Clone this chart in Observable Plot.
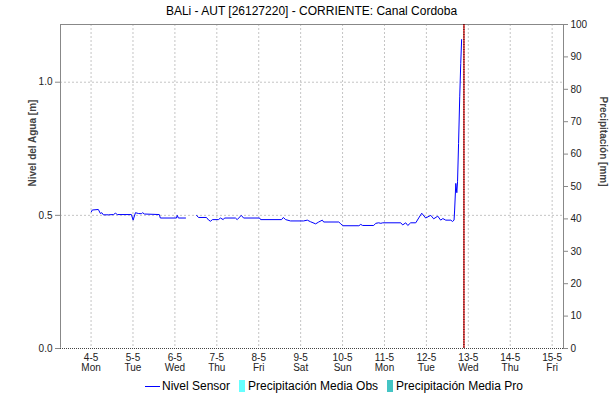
<!DOCTYPE html>
<html><head><meta charset="utf-8">
<script src="https://cdn.jsdelivr.net/npm/d3@7"></script>
<script src="https://cdn.jsdelivr.net/npm/@observablehq/plot@0.6"></script>
<style>
body{margin:0;background:#fff;font-family:"Liberation Sans",Arial,sans-serif;width:610px;height:404px;position:relative;overflow:hidden}
#title{position:absolute;left:60px;width:503px;top:4px;text-align:center;font-size:12px;color:#000;white-space:nowrap}
#chart{position:absolute;left:0;top:20px}
#legend{position:absolute;top:379px;left:145px;font-size:12px;white-space:nowrap;display:flex;align-items:center;color:#000}
#legend .sw{display:inline-block;width:6px;height:12px;margin-right:3px}
#legend .ln{display:inline-block;width:15px;height:1px;background:#0000ff;margin-right:2px}
#legend .it{display:flex;align-items:center;margin-right:9px}
</style></head><body>
<div id="title"></div>
<div id="chart"></div>
<div id="legend"></div>
<script>
const title = "BALi - AUT [26127220] - CORRIENTE: Canal Cordoba";
const yLabel = "Nivel del Agua [m]";
const y2Label = "Precipitación [mm]";
const seriesNames = ["Nivel Sensor", "Precipitación Media Obs", "Precipitación Media Pro"];
const seriesColors = ["#0000ff", "#66ffff", "#44c4c4"];

const times = [
 "04T00:10","04T00:40","04T04:10","04T05:20","04T06:10","04T07:00","04T09:55","04T12:50","04T13:55","04T15:05","04T23:05",
 "05T00:05","05T01:25","05T03:05","05T04:50","05T05:25","05T06:35","05T15:05","05T15:40",
 "06T00:55","06T01:20","06T02:00","06T06:05","06T09:00","06T12:25","06T13:30","06T18:05","06T19:20","06T20:25","06T21:30",
 "07T00:55","07T02:05","07T03:40","07T04:25","07T10:40","07T11:40","07T14:00","07T15:20",
 "08T00:30","08T01:05","08T13:05","08T14:05","08T15:25","08T18:10",
 "09T01:40","09T03:50","09T05:40","09T08:35","09T10:20","09T12:25","09T13:10","09T21:50","09T23:00",
 "10T00:05","10T09:20","10T10:25","10T11:30","10T17:50","10T19:00","10T20:40","10T21:55","10T23:00",
 "11T09:20","11T10:25","11T12:10","11T13:20","11T15:00","11T17:55","11T19:35","11T21:20","11T23:35",
 "12T02:30","12T04:10","12T06:30","12T08:10","12T09:25","12T11:05","12T14:00","12T14:55","12T15:50","12T16:10","12T16:50","12T17:25","12T17:50","12T18:25","12T19:05","12T19:40","12T20:10"
];
const levels = [
 0.513,0.520,0.522,0.507,0.510,0.502,0.502,0.503,0.508,0.503,0.503,
 0.482,0.510,0.507,0.506,0.510,0.505,0.503,0.490,
 0.490,0.500,0.490,0.490,null,0.500,0.492,0.492,0.482,0.478,0.484,
 0.484,0.490,0.484,0.490,0.490,0.484,0.500,0.490,
 0.490,0.484,0.484,0.492,0.484,0.479,
 0.479,0.482,0.476,0.468,0.475,0.482,0.475,0.475,0.468,
 0.461,0.461,0.466,0.462,0.462,0.470,0.472,0.470,0.472,
 0.472,0.464,0.472,0.462,0.472,0.472,0.490,0.508,0.490,
 0.500,0.487,0.497,0.482,0.488,0.482,0.482,0.477,0.482,0.520,0.620,0.585,0.626,0.770,0.945,1.070,1.160
];
const precipObs = [];
const precipPro = [];
const dayTicks = ["04","05","06","07","08","09","10","11","12","13","14","15"];
const levelTicks = [0, 0.5, 1.0];
const precipTicks = [0,10,20,30,40,50,60,70,80,90,100];
const nowTime = "12T21:30";
const xStart = "03T06:30", xEnd = "15T06:30";
const yMax = 1.2167;

const toDate = s => new Date("2020-05-" + s + ":00Z");
const data = times.map((t, i) => ({t: toDate(t), v: levels[i]}));
const tickDates = dayTicks.map(d => toDate(d + "T00:00"));
const fmtDM = d3.utcFormat("%-d-%-m"), fmtWd = d3.utcFormat("%a");

const plot = Plot.plot({
  width: 610, height: 360,
  marginTop: 4, marginBottom: 32, marginLeft: 60, marginRight: 47,
  style: {fontFamily: "'Liberation Sans', Arial, sans-serif", fontSize: "10px", color: "#222", background: "#fff"},
  x: {type: "utc", domain: [toDate(xStart), toDate(xEnd)]},
  y: {domain: [0, yMax]},
  marks: [
    Plot.ruleY(levelTicks.slice(1), {stroke: "#c4c4c4", strokeDasharray: "2,2"}),
    Plot.ruleX(tickDates, {stroke: "#c4c4c4", strokeDasharray: "2,2"}),
    Plot.frame({stroke: "#888"}),
    Plot.ruleY([0], {stroke: "#fff", strokeWidth: 1.5}),
    Plot.ruleY([0], {stroke: "#444", strokeDasharray: "1,1"}),
    Plot.ruleX([toDate(nowTime)], {stroke: "#e00000", strokeWidth: 1.3}),
    Plot.ruleX([toDate(nowTime)], {stroke: "#111", strokeDasharray: "1,1.5"}),
    Plot.lineY(data, {x: "t", y: "v", stroke: seriesColors[0], strokeWidth: 1}),
    Plot.axisY({ticks: levelTicks, tickFormat: d3.format(".1f"), tickSize: 5, tickPadding: 3, stroke: "#888", label: null}),
    Plot.axisY({anchor: "right", ticks: precipTicks.map(p => p / 100 * yMax), tickFormat: d => String(Math.round(d / yMax * 100)), tickSize: 4, tickPadding: 3, stroke: "#888", label: null}),
    Plot.axisX({ticks: tickDates, tickFormat: d => fmtDM(d) + "\n" + fmtWd(d), tickSize: 0, tickPadding: 5, lineHeight: 1.0, label: null}),
    Plot.text([yLabel], {frameAnchor: "left", dx: -28, rotate: -90, fontWeight: "bold", fill: "#444", fontSize: 10}),
    Plot.text([y2Label], {frameAnchor: "right", dx: 40, rotate: 90, fontWeight: "bold", fill: "#444", fontSize: 10})
  ]
});
document.getElementById("chart").appendChild(plot);
document.getElementById("title").textContent = title;

const lg = document.getElementById("legend");
seriesNames.forEach((n, i) => {
  const it = document.createElement("span");
  it.className = "it";
  const s = document.createElement("span");
  if (i === 0) { s.className = "ln"; } else { s.className = "sw"; s.style.background = seriesColors[i]; }
  it.appendChild(s);
  it.appendChild(document.createTextNode(n));
  lg.appendChild(it);
});
</script>
</body></html>
